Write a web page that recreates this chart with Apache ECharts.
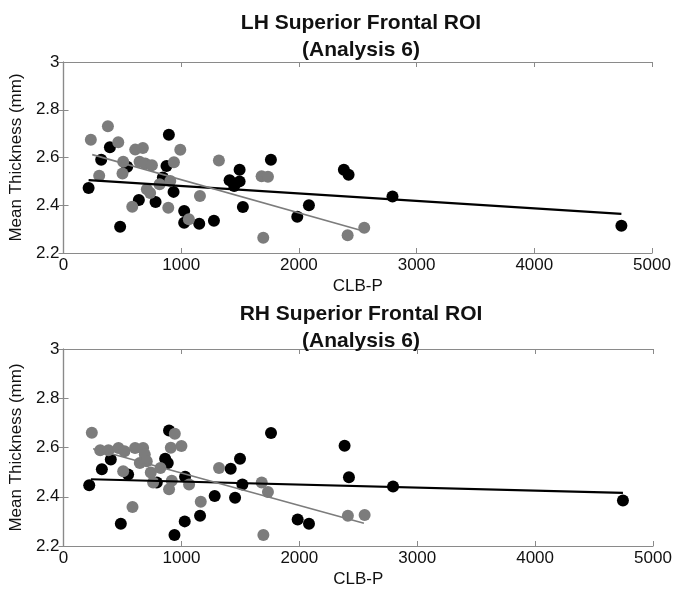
<!DOCTYPE html>
<html>
<head>
<meta charset="utf-8">
<script src="https://cdn.jsdelivr.net/npm/echarts@6/dist/echarts.min.js"></script>
<style>html,body{margin:0;padding:0;background:#fff;}#c{width:675px;height:589px;}</style>
</head>
<body>
<div id="c"></div>
<script>
// ---- data ----
const titles = ['LH Superior Frontal ROI\n(Analysis 6)', 'RH Superior Frontal ROI\n(Analysis 6)'];
const xName = 'CLB-P';
const yName = 'Mean Thickness (mm)';
const xRange = [0, 5000, 1000];
const yRange = [2.2, 3, 0.2];

const lhBlack = [[213,2.472],[320,2.591],[394,2.643],[481,2.310],[541,2.561],[640,2.422],[782,2.414],[895,2.695],[875,2.564],[844,2.516],[935,2.456],[1025,2.376],[1025,2.327],[1153,2.323],[1278,2.335],[1411,2.505],[1450,2.481],[1496,2.500],[1496,2.549],[1524,2.393],[1762,2.591],[1986,2.352],[2085,2.400],[2382,2.549],[2422,2.528],[2795,2.437],[4740,2.314]];
const lhGrey = [[232,2.674],[303,2.524],[377,2.731],[465,2.664],[507,2.582],[501,2.533],[609,2.633],[674,2.640],[646,2.582],[694,2.575],[751,2.568],[708,2.467],[736,2.451],[584,2.394],[816,2.488],[907,2.502],[938,2.580],[992,2.632],[890,2.390],[1065,2.341],[1159,2.439],[1320,2.587],[1683,2.521],[1737,2.519],[1697,2.264],[2414,2.274],[2555,2.306]];
const lhBlackFit = [[213,2.505],[4740,2.364]];
const lhGreyFit = [[244,2.612],[2516,2.296]];

const rhBlack = [[218,2.447],[325,2.512],[401,2.551],[486,2.290],[548,2.490],[791,2.458],[895,2.669],[862,2.554],[884,2.537],[1031,2.481],[941,2.245],[1028,2.300],[1158,2.323],[1282,2.403],[1418,2.514],[1455,2.396],[1497,2.554],[1517,2.450],[1760,2.659],[1986,2.308],[2082,2.290],[2384,2.607],[2421,2.479],[2795,2.442],[4745,2.385]];
const rhGrey = [[240,2.660],[311,2.589],[381,2.589],[466,2.598],[517,2.585],[506,2.504],[607,2.598],[675,2.598],[689,2.572],[647,2.537],[706,2.544],[740,2.498],[760,2.458],[822,2.517],[585,2.358],[910,2.599],[944,2.656],[1000,2.606],[918,2.465],[895,2.430],[1065,2.450],[1164,2.380],[1319,2.517],[1681,2.458],[1734,2.419],[1695,2.245],[2412,2.323],[2554,2.326]];
const rhBlackFit = [[232,2.471],[4745,2.416]];
const rhGreyFit = [[251,2.595],[2548,2.292]];

// ---- chart ----
const FONT = "'Liberation Sans', Arial, Helvetica, sans-serif";
const FRAME = '#8a8a8a';
const GREY = '#7c7c7c';
const grids = [
  {left: 60, top: 62, width: 592, height: 191},
  {left: 60, top: 349, width: 593, height: 198}
];
const titleTops = [5, 296];

const xAxes = [], yAxes = [];
grids.forEach((g, i) => {
  const common = {
    gridIndex: i, min: xRange[0], max: xRange[1], interval: xRange[2],
    splitLine: {show: false},
    axisLine: {show: true, lineStyle: {color: FRAME, width: 1.2}},
    axisTick: {show: true, inside: true, length: 5, lineStyle: {color: FRAME}}
  };
  xAxes.push(Object.assign({}, common, {
    type: 'value', position: 'bottom',
    name: xName, nameLocation: 'middle', nameGap: 25,
    nameTextStyle: {color: '#111', fontSize: 17, fontFamily: FONT},
    axisLabel: {color: '#111', fontSize: 17, fontFamily: FONT, margin: 4,
      formatter: v => String(Math.round(v))}
  }));
  xAxes.push(Object.assign({}, common, {
    type: 'value', position: 'top', axisLabel: {show: false}
  }));
  const ycommon = {
    gridIndex: i, min: yRange[0], max: yRange[1], interval: yRange[2],
    splitLine: {show: false},
    axisLine: {show: true, lineStyle: {color: FRAME, width: 1.2}},
    axisTick: {show: true, inside: true, length: 5, lineStyle: {color: FRAME}}
  };
  yAxes.push(Object.assign({}, ycommon, {
    type: 'value', position: 'left',
    name: yName, nameLocation: 'middle', nameGap: 32, nameRotate: 90,
    nameTextStyle: {color: '#111', fontSize: 17, fontFamily: FONT},
    axisLabel: {color: '#111', fontSize: 17, fontFamily: FONT, margin: 4,
      formatter: v => String(Math.round(v * 10) / 10)}
  }));
  yAxes.push(Object.assign({}, ycommon, {
    type: 'value', position: 'right', axisLabel: {show: false}
  }));
});

const panels = [
  {black: lhBlack, grey: lhGrey, bf: lhBlackFit, gf: lhGreyFit},
  {black: rhBlack, grey: rhGrey, bf: rhBlackFit, gf: rhGreyFit}
];
const series = [];
panels.forEach((p, i) => {
  const xi = i * 2, yi = i * 2;
  series.push({type: 'scatter', xAxisIndex: xi, yAxisIndex: yi, data: p.black,
    symbol: 'circle', symbolSize: 12, itemStyle: {color: '#000', opacity: 1}, z: 2});
  series.push({type: 'scatter', xAxisIndex: xi, yAxisIndex: yi, data: p.grey,
    symbol: 'circle', symbolSize: 12, itemStyle: {color: GREY, opacity: 1}, z: 3});
  series.push({type: 'line', xAxisIndex: xi, yAxisIndex: yi, data: p.bf,
    showSymbol: false, symbol: 'none', lineStyle: {color: '#000', width: 2.2}, z: 4});
  series.push({type: 'line', xAxisIndex: xi, yAxisIndex: yi, data: p.gf,
    showSymbol: false, symbol: 'none', lineStyle: {color: GREY, width: 1.6}, z: 5});
});

const chart = echarts.init(document.getElementById('c'), null, {renderer: 'canvas'});
chart.setOption({
  backgroundColor: '#fff',
  animation: false,
  title: titles.map((t, i) => ({
    text: t, left: 356, textAlign: 'center', top: titleTops[i],
    textStyle: {fontSize: 21, fontWeight: 'bold', fontFamily: FONT, color: '#111', lineHeight: 27}
  })),
  grid: grids,
  xAxis: xAxes,
  yAxis: yAxes,
  series: series
});
</script>
</body>
</html>
